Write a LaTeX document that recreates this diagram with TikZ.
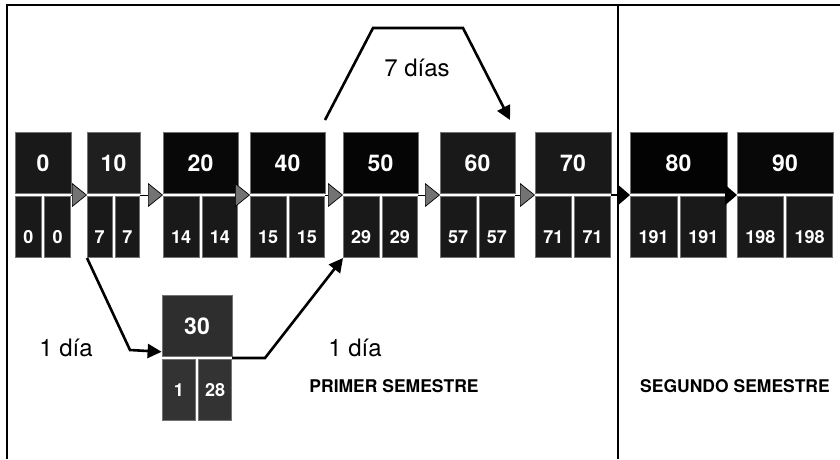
\documentclass[tikz,border=0pt]{standalone}
\usepackage{fontspec}
\setmainfont{TeX Gyre Heros}
\usetikzlibrary{arrows.meta}

\begin{document}
\begin{tikzpicture}[x=1pt, y=-1pt,
  actframe/.style={minimum height=126pt, inner sep=0pt, outer sep=0pt},
  topbox/.style={draw=black!55, line width=0.8pt, text=white, minimum height=61pt, inner sep=0pt,
    font=\fontsize{23}{25}\selectfont\bfseries},
  cellbox/.style={draw=black!55, line width=0.8pt, fill=black!90, text=white, minimum height=61pt, inner sep=0pt,
    text height=32pt, text depth=0pt, font=\fontsize{18}{20}\selectfont\bfseries},
  steparrow/.style={draw=black, line width=0.7pt, -{Triangle[length=15pt,width=24pt,fill=black!55]}},
  lastarrow/.style={draw=black, line width=2.5pt, -{Triangle[length=12pt,width=20pt]}},
  flow/.style={line width=2.6pt, line join=miter, -{Triangle[length=14pt,width=14pt]}},
  daylabel/.style={font=\fontsize{24}{28}\selectfont},
  semlabel/.style={font=\fontsize{17.5}{20}\selectfont\bfseries}]

  \useasboundingbox (0,0) rectangle (840,459);

  % Frame and semester divider
  \draw[line width=1.8pt] (7,459) -- (7,5) -- (840,5);
  \draw[line width=1.3pt] (618,5) -- (618,459);

  % Activities on the main path
  \foreach \n/\x/\w/\a/\b/\f in {0/43/56/0/0/90, 10/113.5/53/7/7/88, 20/200.5/75/14/14/97,
      40/287.5/75/15/15/97, 50/380.5/75/29/29/98, 60/477.5/75/57/57/90, 70/573/76/71/71/90,
      80/678.5/97/191/191/99, 90/785/96/198/198/97} {
    \node[actframe, minimum width=\w pt] (a\n) at (\x,195) {};
    \node[topbox, fill=black!\f, minimum width=\w pt, anchor=north] (a\n-t) at (a\n.north) {\n};
    \node[cellbox, minimum width={(\w pt-4pt)/2}, anchor=south west] (a\n-l) at (a\n.south west) {\a};
    \node[cellbox, minimum width={(\w pt-4pt)/2}, anchor=south east] (a\n-r) at (a\n.south east) {\b};
  }

  % Activity 30 (off the main path)
  \node[actframe, minimum width=70pt] (a30) at (197,358) {};
  \node[topbox, fill=black!82, minimum width=70pt, anchor=north] (a30-t) at (a30.north) {30};
  \node[cellbox, fill=black!80, text height=12pt, minimum width=33pt, anchor=south west] (a30-l) at (a30.south west) {1};
  \node[cellbox, fill=black!80, text height=12pt, minimum width=33pt, anchor=south east] (a30-r) at (a30.south east) {28};

  % Links along the main path
  \foreach \p/\q in {0/10, 10/20, 20/40, 40/50, 50/60, 60/70}
    \draw[steparrow] (a\p.east) -- (a\q.west);
  \draw[lastarrow] (a70.east) -- (a80.west);
  \draw[lastarrow] (a80.east) -- (a90.west);

  % Lags
  \draw[flow] (a10.south west) -- (130,350) -- ([yshift=5pt]a30-t.south west);
  \draw[flow] (a30.east) -- (265,358) -- (a50.south west);
  \draw[flow] ([yshift=12pt]a40.north east) -- (373,28) -- (463,28) -- ([shift={(-5pt,12pt)}]a60.north east);

  \node[daylabel] (lag7) at (417,68) {7 días};
  \node[daylabel] (lag1a) at (66,348) {1 día};
  \node[daylabel] (lag1b) at (355,348) {1 día};

  \node[semlabel] (sem1) at (394,386) {PRIMER SEMESTRE};
  \node[semlabel] (sem2) at (735,386) {SEGUNDO SEMESTRE};
\end{tikzpicture}
\end{document}
